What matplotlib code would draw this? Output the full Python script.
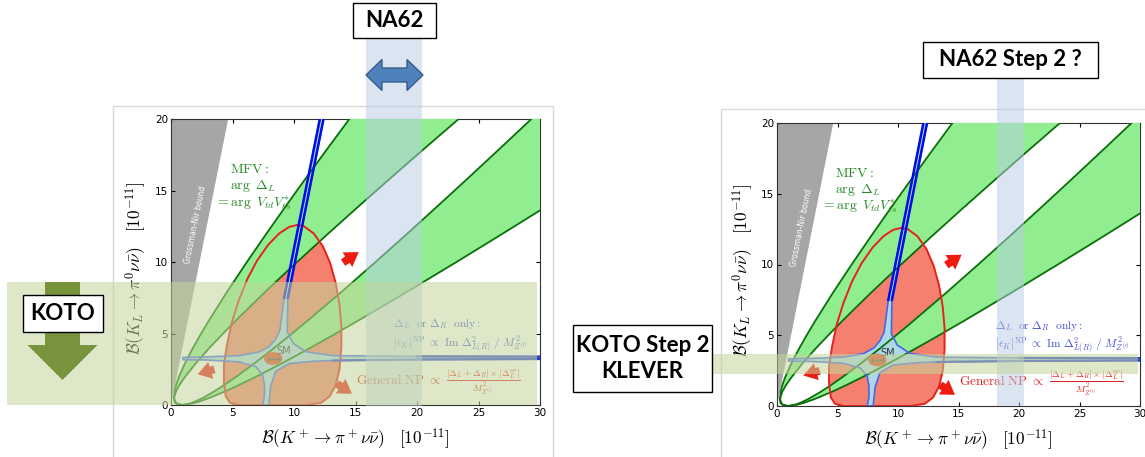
import matplotlib
matplotlib.use("Agg")
import matplotlib.pyplot as plt
from matplotlib.patches import Polygon, Rectangle, Ellipse, FancyArrow, FancyArrowPatch

plt.rcParams['mathtext.fontset'] = 'cm'

# ---- data (units of 1e-11) ----
x_ticks = [0, 5, 10, 15, 20, 25, 30]
y_ticks = [0, 5, 10, 15, 20]

# Grossman-Nir excluded region
gn_x = [0, 4.65, 0]
gn_y = [0, 20, 20]

# MFV band edges, sampled along B(KL)
mfv_y = [0, 0.1, 0.25, 0.5, 1, 1.5, 2, 3, 4, 5, 6, 8, 10, 12, 14, 16, 18, 20, 22]
mfv1_upper_x = [0.9, 0.48, 0.34, 0.26, 0.30, 0.45, 0.66, 1.18, 1.79, 2.45, 3.15, 4.62, 6.17, 7.77, 9.41, 11.08, 12.78, 14.5, 16.24]
mfv1_lower_x = [0.9, 0.41, 0.27, 0.24, 0.43, 0.76, 1.17, 2.10, 3.13, 4.24, 5.38, 7.76, 10.25, 12.80, 15.39, 18.03, 20.69, 23.39, 26.11]
mfv2_upper_x = [0.9, 1.53, 1.99, 2.60, 3.61, 4.50, 5.34, 6.92, 8.41, 9.85, 11.25, 13.98, 16.63, 19.23, 21.79, 24.32, 26.82, 29.30, 31.75]
mfv2_lower_x = [0.9, 1.71, 2.32, 3.14, 4.53, 5.78, 6.97, 9.20, 11.33, 13.40, 15.42, 19.36, 23.21, 27.0, 30.73, 34.43, 38.1, 41.7, 45.3]

# general NP contour
np_x = [5.5, 7.0, 9.0, 11.0, 12.2, 12.9, 13.4, 13.7, 13.85, 13.85, 13.7, 13.4, 12.95, 12.35, 11.6, 10.8, 10.3,
        9.6, 8.8, 7.9, 7.0, 6.2, 5.5, 4.95, 4.55, 4.3, 4.3, 4.45, 4.8, 5.5]
np_y = [0.0, 0.0, 0.0, 0.0, 0.15, 0.6, 1.4, 2.5, 4.0, 5.5, 7.0, 8.5, 9.9, 11.1, 12.0, 12.5, 12.6,
        12.45, 12.0, 11.2, 10.1, 8.8, 7.3, 5.8, 4.2, 2.8, 1.6, 0.6, 0.15, 0.0]

# Delta_L or Delta_R only region (cross around the SM point)
cross_x = [12.6, 12.1, 9.2, 8.85, 8.5, 8.0, 7.2, 5.5, 2.75, 0.95,
           0.95, 2.75, 5.5, 6.9, 7.45, 7.6, 7.6, 7.45,
           7.95, 8.1, 8.5, 9.6, 11.6, 13.2, 20.0, 32.0,
           32.0, 20.0, 13.2, 11.0, 9.95, 9.45, 9.5, 12.4, 12.9]
cross_y = [22.0, 20.0, 7.5, 5.2, 4.6, 4.1, 3.72, 3.45, 3.36, 3.33,
           3.17, 3.15, 3.02, 2.68, 2.1, 1.4, 0.6, 0.0,
           0.0, 1.3, 2.35, 2.9, 3.06, 3.11, 3.18, 3.22,
           3.38, 3.40, 3.45, 3.72, 4.3, 5.1, 7.5, 20.0, 22.0]

sm_x, sm_y = 8.3, 3.25

# red arrows (tail, tip)
np_arrows = [((13.8, 9.85), (15.45, 10.8)),
             ((3.75, 2.55), (1.95, 2.1)),
             ((13.3, 1.6), (14.9, 0.68))]

# ---- styles ----
GREEN_FILL = '#90EE90'
GREEN_LINE = '#0B6E0B'
RED_FILL = '#F5806F'
RED_LINE = '#E8201A'
BLUE_FILL = '#ADD8E6'
BLUE_LINE = '#4A66E8'
BLUE_DARK = '#0010E0'


def draw_panel(ax):
    ax.fill(gn_x, gn_y, color='#A6A6A6', lw=0, zorder=1)
    ax.text(2.0, 12.6, 'Grossman-Nir bound', rotation=78.5, color='white', fontsize=5.5,
            ha='center', va='center', zorder=2)
    ax.fill(np_x, np_y, color=RED_FILL, lw=0, zorder=2)
    for up, lo in [(mfv1_upper_x, mfv1_lower_x), (mfv2_upper_x, mfv2_lower_x)]:
        ax.fill(up + lo[::-1], mfv_y + mfv_y[::-1], color=GREEN_FILL, lw=0, zorder=3)
    ax.fill(cross_x, cross_y, color=BLUE_FILL, lw=0, zorder=4)
    for xs in [mfv1_upper_x, mfv1_lower_x, mfv2_upper_x, mfv2_lower_x]:
        ax.plot(xs, mfv_y, color=GREEN_LINE, lw=1.3, zorder=5)
    ax.plot(np_x, np_y, color=RED_LINE, lw=1.4, zorder=6)
    ax.plot(cross_x, cross_y, color=BLUE_LINE, lw=1.2, zorder=7)
    # thick parts of the arms
    ax.plot(cross_x[:3], cross_y[:3], color=BLUE_DARK, lw=1.8, zorder=7)
    ax.plot(cross_x[-3:], cross_y[-3:], color=BLUE_DARK, lw=1.8, zorder=7)
    ax.plot(cross_x[23:28], cross_y[23:28], color='#2A3AD0', lw=1.6, zorder=7)

    ax.add_patch(Ellipse((sm_x, sm_y), 1.4, 0.8, color='#E4462E', zorder=8))
    ax.errorbar([sm_x], [sm_y], xerr=0.45, color='#555555', lw=1, capsize=1.5, zorder=9)
    ax.text(sm_x + 0.25, sm_y + 0.3, 'SM', color='#333333', fontsize=7, zorder=9)

    for tail, tip in np_arrows:
        ax.add_patch(FancyArrowPatch(tail, tip, arrowstyle='simple,head_length=0.7,head_width=0.9,tail_width=0.4',
                                     mutation_scale=14, color='#EE1C10', lw=0, zorder=8))

    ax.text(4.8, 16.5, r'$\mathrm{MFV:}$', color='#2A8A2A', fontsize=10, va='center', zorder=9)
    ax.text(4.8, 15.3, r'$\arg\ \Delta_L$', color='#2A8A2A', fontsize=10, va='center', zorder=9)
    ax.text(3.6, 14.1, r'$=\arg\ V_{td}V_{ts}^{*}$', color='#2A8A2A', fontsize=10, va='center', zorder=9)

    ax.text(18.05, 5.65, r'$\Delta_L\ \ \mathrm{or}\ \boldsymbol{\Delta}_R\ \ \mathrm{only:}$', color='#4050D0',
            fontsize=8.3, va='center', zorder=9)
    ax.text(18.05, 4.3, r'$|\epsilon_K|^{\mathrm{NP}}\ \propto\ \mathrm{Im}\ \Delta^2_{L(R)}\ /\ M^2_{Z^{(\prime)}}$',
            color='#4050D0', fontsize=8.3, va='center', zorder=9)
    ax.text(15.0, 1.6, r'$\mathrm{General\ NP}\ \propto\ \frac{|\Delta_L+\Delta_R|\times|\Delta_L^{\nu\nu}|}{M^2_{Z^{(\prime)}}}$',
            color='#E02020', fontsize=9.5, va='center', zorder=9)

    ax.set_xlim(0, 30)
    ax.set_ylim(0, 20)
    ax.set_xticks(x_ticks)
    ax.set_yticks(y_ticks)
    ax.tick_params(direction='in', top=True, right=True, length=3, labelsize=7.5, pad=2)
    for s in ax.spines.values():
        s.set_color('#333333')
        s.set_linewidth(0.8)
    ax.set_xlabel(r'$\mathcal{B}(K^+\to\pi^+\nu\bar\nu)\quad[10^{-11}]$', fontsize=12.5)
    ax.set_ylabel(r'$\mathcal{B}(K_L\to\pi^0\nu\bar\nu)\quad[10^{-11}]$', fontsize=12.5)


W, H = 1145, 457
fig = plt.figure(figsize=(W / 100, H / 100), dpi=100)

ax1 = fig.add_axes([171 / W, 1 - 405 / H, 369 / W, 286 / H])
draw_panel(ax1)
ax1.xaxis.set_label_coords(0.5, -0.075)
ax1.yaxis.set_label_coords(-0.062, 0.48)

ax2 = fig.add_axes([777 / W, 1 - 406 / H, 363 / W, 283 / H])
draw_panel(ax2)
ax2.xaxis.set_label_coords(0.5, -0.075)
ax2.yaxis.set_label_coords(-0.061, 0.48)

# ---- overlay in pixel coordinates ----
ov = fig.add_axes([0, 0, 1, 1], zorder=10)
ov.set_xlim(0, W)
ov.set_ylim(H, 0)
ov.axis('off')
ov.patch.set_alpha(0)

# frames of the two pasted plots
ov.add_patch(Rectangle((113, 106), 440, 380, fill=False, ec='#D9D9D9', lw=1))
ov.add_patch(Rectangle((721, 109), 460, 380, fill=False, ec='#D9D9D9', lw=1))

band_blue = dict(fc='#B9CDE5', alpha=0.5, lw=0)
band_green = dict(fc='#C3D69B', alpha=0.55, lw=0)
ov.add_patch(Rectangle((366, 38), 56, 368, **band_blue))
ov.add_patch(Rectangle((997, 78), 27, 328, **band_blue))
ov.add_patch(Rectangle((7, 282), 530, 123, **band_green))
ov.add_patch(Rectangle((712, 354), 426, 20, **band_green))


def double_arrow(cx, cy, half_len, shaft_h, head_h, head_len):
    pts = [(cx - half_len, cy), (cx - half_len + head_len, cy - head_h / 2),
           (cx - half_len + head_len, cy - shaft_h / 2), (cx + half_len - head_len, cy - shaft_h / 2),
           (cx + half_len - head_len, cy - head_h / 2), (cx + half_len, cy),
           (cx + half_len - head_len, cy + head_h / 2), (cx + half_len - head_len, cy + shaft_h / 2),
           (cx - half_len + head_len, cy + shaft_h / 2), (cx - half_len + head_len, cy + head_h / 2)]
    return Polygon(pts, closed=True, fc='#4F81BD', ec='#385D8A', lw=1)


ov.add_patch(double_arrow(394.5, 75, 28.5, 14, 31, 16))
ov.add_patch(FancyArrow(62.5, 282, 0, 98, width=35, head_width=70, head_length=35,
                        length_includes_head=True, fc='#77933C', ec='none'))


def label_box(x0, y0, w, h, text):
    ov.add_patch(Rectangle((x0, y0), w, h, fc='white', ec='black', lw=1))
    ov.text(x0 + w / 2, y0 + h / 2, text, ha='center', va='center', fontsize=16,
            fontweight='bold', family='Lato', linespacing=1.25)


label_box(353, 3, 83, 35, 'NA62')
label_box(923, 42, 175, 36, 'NA62 Step 2 ?')
label_box(23, 295, 80, 37, 'KOTO')
label_box(573, 325, 139, 67, 'KOTO Step 2\nKLEVER')

fig.savefig('out.png', dpi=100)
